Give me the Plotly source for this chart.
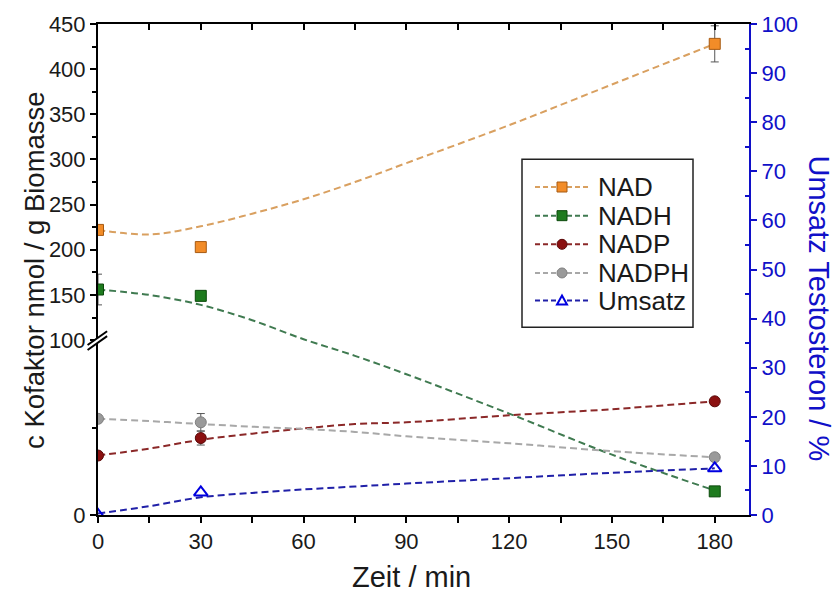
import plotly.graph_objects as go

# ---------------- data ----------------
t_data = [0, 30, 180]
nad = [222, 203, 428]
nad_err = [3, 4, 20]
nadh = [156, 149, 13.5]
nadh_err = [17, 3, 2]
nadp = [34, 44, 65]
nadp_err = [2, 4, 2]
nadph = [55, 53, 33]
nadph_err = [2, 5, 2]
umsatz = [0, 4.6, 9.5]

# fitted curves
fit_t = [0, 15, 30, 45, 60, 75, 90, 120, 150, 180]
nad_fit = [222, 217, 226, 240, 256, 275, 296, 338, 383, 428]
nadh_fit = [156, 150, 139, 122, 101, 91, 80.5, 58, 34.5, 14]
nadp_fit = [34, 38, 43, 46.5, 49.5, 52, 53, 57, 60.5, 65]
nadph_fit = [55, 53.7, 52, 50.5, 49.2, 47.5, 45, 41, 36.5, 33]
umsatz_fit = [0.3, 1.8, 3.6, 4.5, 5.2, 5.8, 6.4, 7.5, 8.6, 9.5]

x_ticks = [0, 30, 60, 90, 120, 150, 180]
x_minor = [15, 45, 75, 105, 135, 165]
y_major = [0, 100, 150, 200, 250, 300, 350, 400, 450]
y_minor = [50, 125, 175, 225, 275, 325, 375, 425]
y2_ticks = [0, 10, 20, 30, 40, 50, 60, 70, 80, 90, 100]
y2_minor = [5, 15, 25, 35, 45, 55, 65, 75, 85, 95]
legend_names = ["NAD", "NADH", "NADP", "NADPH", "Umsatz"]

# ---------------- broken axis scale ----------------
BREAK = 100.0
LOW_H = 177.0          # display units for 0..100
UP_K = 0.914           # display units per value above the break


def f(v):
    if v <= BREAK:
        return v * LOW_H / BREAK
    return LOW_H + (v - BREAK) * UP_K


def fl(vals):
    return [f(v) for v in vals]


def errs(vals, e):
    plus = [f(v + d) - f(v) for v, d in zip(vals, e)]
    minus = [f(v) - f(v - d) for v, d in zip(vals, e)]
    return plus, minus


FONT = "Arial, Liberation Sans, sans-serif"
BLUE = "#1010C8"
DASH = "7px,4px"
TXT = "#1a1a1a"

# plot area in pixels (for decorations only)
L, R, T, B = 98, 749, 18, 515
W, H = R - L, B - T


def px(x):
    return (x - L) / W


def py(y):
    return (B - y) / H


series = [
    ("NAD", nad, nad_err, nad_fit, "#F28C28", "#A65A12", "#D9A060", "square"),
    ("NADH", nadh, nadh_err, nadh_fit, "#1E7B1E", "#0C4A0C", "#3F7A50", "square"),
    ("NADP", nadp, nadp_err, nadp_fit, "#8B1010", "#5A0808", "#8B2828", "circle"),
    ("NADPH", nadph, nadph_err, nadph_fit, "#9A9A9A", "#808080", "#A8A8A8", "circle"),
]
U_MARK = "#0000E0"
U_LINE = "#2020A8"

fig = go.Figure()

for name, vals, e, fit, mcol, mline, lcol, sym in series:
    fig.add_trace(go.Scatter(
        x=fit_t, y=fl(fit), mode="lines", line=dict(color=lcol, width=2, dash=DASH, shape="spline"),
        showlegend=False, hoverinfo="skip"))
for name, vals, e, fit, mcol, mline, lcol, sym in series:
    p, m = errs(vals, e)
    fig.add_trace(go.Scatter(
        x=t_data, y=fl(vals), mode="markers", name=name,
        marker=dict(symbol=sym, size=11, color=mcol, line=dict(color=mline, width=1)),
        error_y=dict(type="data", array=p, arrayminus=m, color="#555555", thickness=1, width=4),
        showlegend=False))

# Umsatz on right axis (top x axis shares the same range)
fig.add_trace(go.Scatter(
    x=fit_t, y=umsatz_fit, xaxis="x2", yaxis="y2", mode="lines",
    line=dict(color=U_LINE, width=2, dash=DASH, shape="spline"), showlegend=False, hoverinfo="skip"))
fig.add_trace(go.Scatter(
    x=t_data, y=umsatz, xaxis="x2", yaxis="y2", mode="markers", name="Umsatz",
    marker=dict(symbol="triangle-up-open", size=12, color=U_MARK, line=dict(width=2)),
    showlegend=False))

shapes = []
annotations = []

# break marker on left axis
bx0, bx1 = -0.016, 0.014
shapes.append(dict(type="path", xref="paper", yref="y",
                   path=f"M {bx0} {LOW_H-10} L {bx1} {LOW_H+4} L {bx1} {LOW_H+9} L {bx0} {LOW_H-5} Z",
                   fillcolor="white", line=dict(width=0), layer="above"))
for dy in (0, 5):
    shapes.append(dict(type="line", xref="paper", yref="y", x0=bx0, x1=bx1,
                       y0=LOW_H - 10 + dy, y1=LOW_H + 4 + dy,
                       line=dict(color="black", width=2), layer="above"))

# manual legend
LX0, LX1, LY0, LY1 = 522, 693, 155, 325
shapes.append(dict(type="rect", xref="paper", yref="paper", x0=px(LX0), x1=px(LX1),
                   y0=py(LY1), y1=py(LY0), line=dict(color="#222222", width=1.5),
                   fillcolor="white", layer="above"))
row_y = [183, 212, 241, 270, 298]
leg_style = [(s[4], s[5], s[6], s[7]) for s in series] + [(U_MARK, U_MARK, U_LINE, "triangle")]
for name, yy, (mcol, mline, lcol, sym) in zip(legend_names, row_y, leg_style):
    shapes.append(dict(type="line", xref="paper", yref="paper", x0=px(535), x1=px(590),
                       y0=py(yy), y1=py(yy), line=dict(color=lcol, width=2, dash="5px,3px"),
                       layer="above"))
    cx, cy = px(562), py(yy)
    common = dict(xref="paper", yref="paper", xsizemode="pixel", ysizemode="pixel",
                  xanchor=cx, yanchor=cy, layer="above")
    if sym == "square":
        shapes.append(dict(type="rect", x0=-5, x1=5, y0=-5, y1=5,
                           fillcolor=mcol, line=dict(color=mline, width=1), **common))
    elif sym == "circle":
        shapes.append(dict(type="circle", x0=-5, x1=5, y0=-5, y1=5,
                           fillcolor=mcol, line=dict(color=mline, width=1), **common))
    else:
        shapes.append(dict(type="path", path="M -5 -4 L 5 -4 L 0 5 Z",
                           fillcolor="white", line=dict(color=mcol, width=2), **common))
    annotations.append(dict(text=name, xref="paper", yref="paper", x=px(596), y=cy,
                            xanchor="left", yanchor="middle", showarrow=False,
                            font=dict(size=26, color=TXT)))

# axis titles
annotations += [
    dict(text="c Kofaktor nmol / g Biomasse", xref="paper", yref="paper",
         x=px(35), y=py(267), xanchor="center", yanchor="middle", showarrow=False,
         textangle=-90, font=dict(size=27.5, color=TXT)),
    dict(text="Umsatz Testosteron / %", xref="paper", yref="paper",
         x=px(819), y=py(306), xanchor="center", yanchor="middle", showarrow=False,
         textangle=90, font=dict(size=29, color=BLUE)),
    dict(text="Zeit / min", xref="paper", yref="paper",
         x=px(411), y=py(578), xanchor="center", yanchor="middle", showarrow=False,
         font=dict(size=29, color=TXT)),
]

fig.update_layout(
    width=835, height=599,
    margin=dict(l=L, r=835 - R, t=T, b=599 - B),
    paper_bgcolor="white", plot_bgcolor="white",
    font=dict(family=FONT, size=22, color=TXT),
    showlegend=False,
    shapes=shapes,
    annotations=annotations,
    xaxis=dict(range=[0, 190], tickmode="array", tickvals=x_ticks,
               ticktext=[str(v) for v in x_ticks],
               ticks="outside", ticklen=6, tickwidth=2, tickcolor="black",
               minor=dict(tickmode="array", tickvals=x_minor,
                          ticks="outside", ticklen=6, tickwidth=2, tickcolor="black"),
               showline=True, linecolor="black", linewidth=2, showgrid=False, zeroline=False,
               tickfont=dict(size=22, color=TXT)),
    xaxis2=dict(range=[0, 190], overlaying="x", side="top", anchor="y2",
                tickmode="array", tickvals=x_ticks,
                ticks="inside", ticklen=6, tickwidth=2, tickcolor="black",
                minor=dict(tickmode="array", tickvals=x_minor,
                           ticks="inside", ticklen=6, tickwidth=2, tickcolor="black"),
                showticklabels=False, showline=True, linecolor="black", linewidth=2,
                showgrid=False, zeroline=False),
    yaxis=dict(range=[0, f(450)], tickmode="array", tickvals=fl(y_major),
               ticktext=[str(v) for v in y_major],
               ticks="outside", ticklen=6, tickwidth=2, tickcolor="black",
               minor=dict(tickmode="array", tickvals=fl(y_minor), ticks="outside",
                          ticklen=4, tickwidth=2, tickcolor="black"),
               showline=True, linecolor="black", linewidth=2, showgrid=False, zeroline=False,
               tickfont=dict(size=22, color=TXT)),
    yaxis2=dict(range=[0, 100], overlaying="y", side="right", anchor="x2", tickmode="array",
                tickvals=y2_ticks, ticktext=[str(v) for v in y2_ticks],
                ticks="outside", ticklen=6, tickwidth=2, tickcolor=BLUE,
                minor=dict(tickmode="array", tickvals=y2_minor,
                           ticks="inside", ticklen=4, tickwidth=2, tickcolor=BLUE),
                showline=True, linecolor=BLUE, linewidth=2, showgrid=False, zeroline=False,
                tickfont=dict(size=22, color=BLUE)),
)

fig.write_html("out.html")
